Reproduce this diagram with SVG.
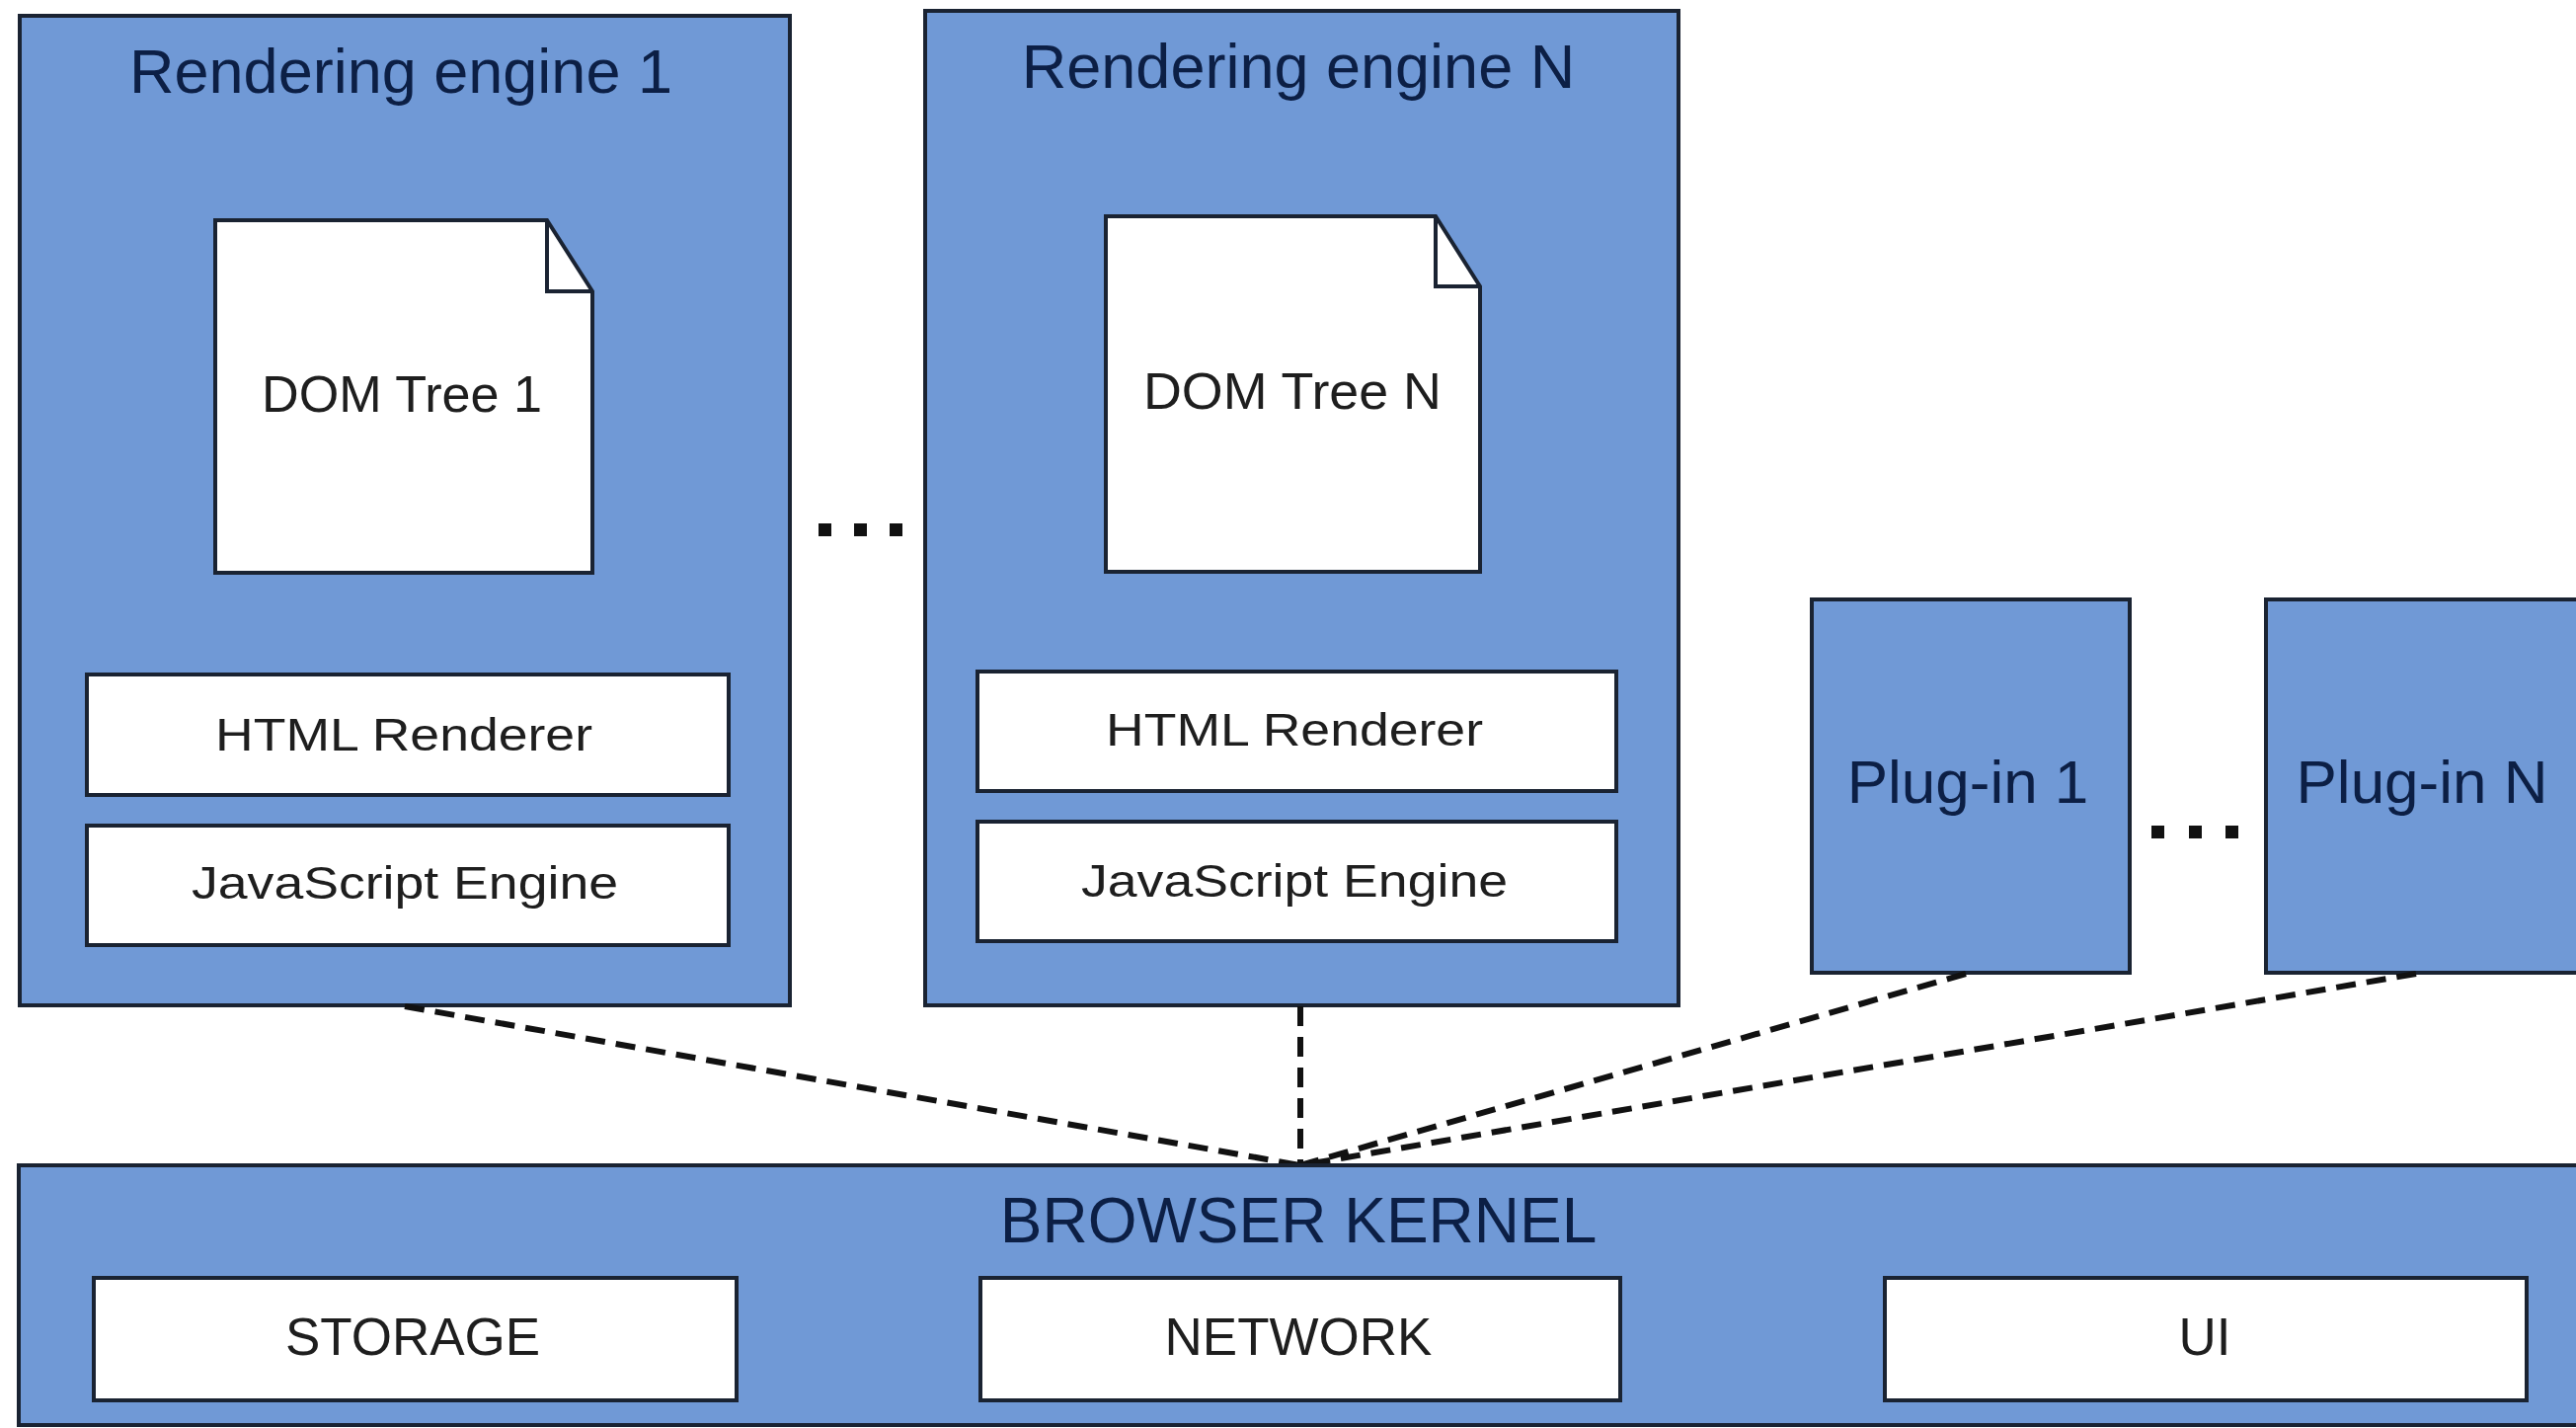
<svg xmlns="http://www.w3.org/2000/svg" width="2609" height="1446" viewBox="0 0 2609 1446">
<style>
.box{fill:#7099d6;stroke:#1a2332;stroke-width:4}
.wbox{fill:#ffffff;stroke:#1a2332;stroke-width:4}
.title{font-family:"Liberation Sans",Arial,sans-serif;fill:#0c1f45;text-anchor:middle}
.lbl{font-family:"Liberation Sans",Arial,sans-serif;fill:#1e1e1e;text-anchor:middle}
.conn{fill:none;stroke:#111;stroke-width:6;stroke-dasharray:20 11}
.dot{fill:#111}
</style>
<rect width="2609" height="1446" fill="#ffffff"/>
<g id="engine1">
<rect class="box" x="20" y="16" width="780" height="1002"/>
<text class="title" x="406" y="94" font-size="63">Rendering engine 1</text>
<g id="domtree1">
<path class="wbox" d="M218,223 H554 L600,295 V580 H218 Z"/>
<path d="M554,223 V295 H600" fill="none" stroke="#1a2332" stroke-width="4"/>
<text class="lbl" x="407" y="417" font-size="52" textLength="284" lengthAdjust="spacingAndGlyphs">DOM Tree 1</text>
</g>
<g id="html1">
<rect class="wbox" x="88" y="683" width="650" height="122"/>
<text class="lbl" x="409" y="760" font-size="46" textLength="382" lengthAdjust="spacingAndGlyphs">HTML Renderer</text>
</g>
<g id="js1">
<rect class="wbox" x="88" y="836" width="650" height="121"/>
<text class="lbl" x="410" y="910" font-size="47" textLength="432" lengthAdjust="spacingAndGlyphs">JavaScript Engine</text>
</g>
</g>
<g id="engineN">
<rect class="box" x="937" y="11" width="763" height="1007"/>
<text class="title" x="1315" y="89" font-size="63">Rendering engine N</text>
<g id="domtreeN">
<path class="wbox" d="M1120,219 H1454 L1499,290 V579 H1120 Z"/>
<path d="M1454,219 V290 H1499" fill="none" stroke="#1a2332" stroke-width="4"/>
<text class="lbl" x="1309" y="414" font-size="52" textLength="302" lengthAdjust="spacingAndGlyphs">DOM Tree N</text>
</g>
<g id="htmlN">
<rect class="wbox" x="990" y="680" width="647" height="121"/>
<text class="lbl" x="1311" y="755" font-size="46" textLength="382" lengthAdjust="spacingAndGlyphs">HTML Renderer</text>
</g>
<g id="jsN">
<rect class="wbox" x="990" y="832" width="647" height="121"/>
<text class="lbl" x="1311" y="908" font-size="47" textLength="432" lengthAdjust="spacingAndGlyphs">JavaScript Engine</text>
</g>
</g>
<g id="ellipsis1">
<rect class="dot" x="829" y="530" width="13" height="13"/>
<rect class="dot" x="865" y="530" width="13" height="13"/>
<rect class="dot" x="901" y="530" width="13" height="13"/>
</g>
<g id="plugin1">
<rect class="box" x="1835" y="607" width="322" height="378"/>
<text class="title" x="1993" y="813" font-size="62">Plug-in 1</text>
</g>
<g id="ellipsis2">
<rect class="dot" x="2179" y="836" width="13" height="13"/>
<rect class="dot" x="2217" y="836" width="13" height="13"/>
<rect class="dot" x="2254" y="836" width="13" height="13"/>
</g>
<g id="pluginN">
<rect class="box" x="2295" y="607" width="330" height="378"/>
<text class="title" x="2453" y="813" font-size="62">Plug-in N</text>
</g>
<g id="connectors">
<line class="conn" x1="410" y1="1019" x2="1317" y2="1180"/>
<line class="conn" x1="1317" y1="1019" x2="1317" y2="1180"/>
<line class="conn" x1="1991" y1="986" x2="1317" y2="1180"/>
<line class="conn" x1="2447" y1="986" x2="1317" y2="1180"/>
</g>
<g id="kernel">
<rect class="box" x="19" y="1180" width="2620" height="263"/>
<text class="title" x="1315" y="1258" font-size="64">BROWSER KERNEL</text>
<g id="storage">
<rect class="wbox" x="95" y="1294" width="651" height="124"/>
<text class="lbl" x="418" y="1372" font-size="53">STORAGE</text>
</g>
<g id="network">
<rect class="wbox" x="993" y="1294" width="648" height="124"/>
<text class="lbl" x="1315" y="1372" font-size="53">NETWORK</text>
</g>
<g id="ui">
<rect class="wbox" x="1909" y="1294" width="650" height="124"/>
<text class="lbl" x="2233" y="1372" font-size="53">UI</text>
</g>
</g>
</svg>
